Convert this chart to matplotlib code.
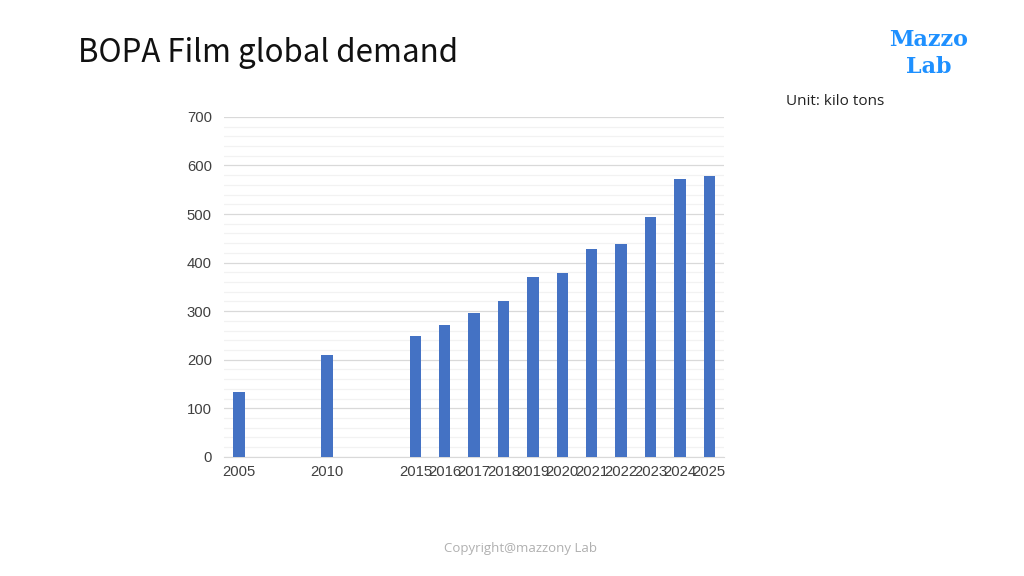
import numpy as np
import matplotlib
matplotlib.use('Agg')
import matplotlib.pyplot as plt
from matplotlib.ticker import MultipleLocator

# Kategorien (leere Einträge = Lücken zwischen 2005, 2010 und 2015)
JAHRE = ['2005', '', '', '2010', '', '', '2015', '2016', '2017', '2018', '2019',
         '2020', '2021', '2022', '2023', '2024', '2025']
NACHFRAGE = [134, 0, 0, 210, 0, 0, 249, 271, 296, 321, 370,
             379, 428, 439, 494, 572, 579]

BLAU = '#4472c4'
TICKFONT = ['Liberation Sans', 'DejaVu Sans']

plt.rcParams['font.family'] = ['Noto Sans CJK SC', 'DejaVu Sans']

fig = plt.figure(figsize=(10.24, 5.76), dpi=100)
ax = fig.add_axes([0.219, 0.207, 0.488, 0.59])

x = np.arange(len(JAHRE))
hoehe = [v if j else 0 for v, j in zip(NACHFRAGE, JAHRE)]
ax.bar(x, hoehe, width=0.385, color=BLAU, zorder=3)

ax.set_xlim(-0.5, len(JAHRE) - 0.5)
ax.set_ylim(0, 700)
ax.set_xticks(x)
ax.set_xticklabels(JAHRE, fontsize=10.7, color='#404040', family=TICKFONT)
ax.yaxis.set_major_locator(MultipleLocator(100))
ax.yaxis.set_minor_locator(MultipleLocator(20))
ax.tick_params(axis='y', labelsize=10.7, labelcolor='#404040', length=0, which='both', pad=9)
for lbl in ax.get_yticklabels():
    lbl.set_family(TICKFONT)
ax.tick_params(axis='x', length=0, pad=6)

ax.grid(axis='y', which='major', color='#d9d9d9', linewidth=0.9, zorder=0)
ax.grid(axis='y', which='minor', color='#f2f2f2', linewidth=0.9, zorder=0)
for s in ['top', 'right', 'left']:
    ax.spines[s].set_visible(False)
ax.spines['bottom'].set_color('#d9d9d9')

fig.text(0.076, 0.908, 'BOPA Film global demand', fontsize=22.5, color='#111111',
         ha='left', va='center', fontweight=300)
fig.text(0.768, 0.824, 'Unit: kilo tons', fontsize=11, color='#222222',
         ha='left', va='center', family=['Open Sans', 'DejaVu Sans'])
fig.text(0.907, 0.93, 'Mazzo', fontsize=16, color='#1e90ff', ha='center', va='center',
         fontweight='bold', family=['DejaVu Serif'])
fig.text(0.907, 0.883, 'Lab', fontsize=16, color='#1e90ff', ha='center', va='center',
         fontweight='bold', family=['DejaVu Serif'])
fig.text(0.508, 0.047, 'Copyright@mazzony Lab', fontsize=9.5, color='#b0b0b0',
         ha='center', va='center', family=['Open Sans', 'DejaVu Sans'])

fig.savefig('out.png', dpi=100)
